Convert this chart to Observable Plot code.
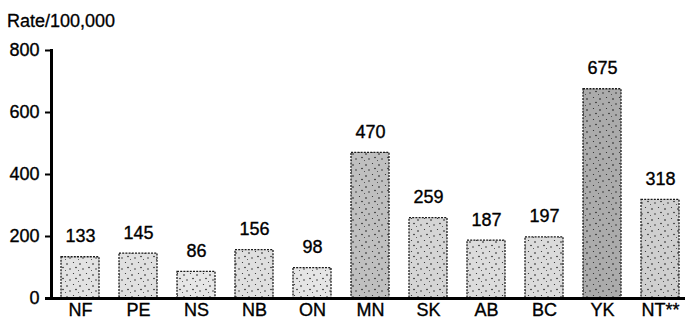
<!DOCTYPE html>
<html>
<head>
<meta charset="utf-8">
<script src="https://cdn.jsdelivr.net/npm/d3@7"></script>
<script src="https://cdn.jsdelivr.net/npm/@observablehq/plot@0.6"></script>
<style>
  body { margin: 0; background: #fff; font-family: "Liberation Sans", Arial, sans-serif; }
  #title { height: 30px; box-sizing: border-box; padding: 12px 0 0 7px; font-size: 18px; line-height: 18px; color: #000; -webkit-text-stroke: 0.3px #000; }
  #chart svg text { stroke: #000; stroke-width: 0.35px; }
</style>
</head>
<body>
<svg width="0" height="0" style="position:absolute">
  <defs>
    <pattern id="dots" width="13" height="11" patternUnits="userSpaceOnUse">
      <circle cx="2" cy="3" r="0.8" fill="#111"/>
      <circle cx="8.5" cy="1.5" r="0.6" fill="#222"/>
      <circle cx="5" cy="8" r="0.7" fill="#111"/>
      <circle cx="11" cy="6.5" r="0.8" fill="#222"/>
      <circle cx="0.5" cy="9.5" r="0.5" fill="#333"/>
    </pattern>
  </defs>
</svg>
<div id="title">Rate/100,000</div>
<div id="chart"></div>
<script>
const provinces = ["NF", "PE", "NS", "NB", "ON", "MN", "SK", "AB", "BC", "YK", "NT**"];
const rates = [133, 145, 86, 156, 98, 470, 259, 187, 197, 675, 318];
const yTicks = [0, 200, 400, 600, 800];

const data = provinces.map((p, i) => ({ province: p, rate: rates[i] }));

const chart = Plot.plot({
  width: 685,
  height: 293,
  marginLeft: 51,
  marginRight: 0,
  marginTop: 20,
  marginBottom: 25,
  style: { fontFamily: "'Liberation Sans', Arial, sans-serif", fontSize: "18px", color: "#000", background: "#fff" },
  x: { domain: provinces, range: [51, 689], padding: 0, label: null },
  y: { domain: [0, 800], label: null },
  color: { type: "linear", domain: [0, 700], range: ["#efefef", "#a8a8a8"] },
  marks: [
    Plot.barY(data, { x: "province", y: "rate", fill: "rate", insetLeft: 10, insetRight: 10 }),
    Plot.barY(data, { x: "province", y: "rate", fill: "url(#dots)", stroke: "#1a1a1a", strokeWidth: 1.3, strokeDasharray: "2,1.2", insetLeft: 10, insetRight: 10 }),
    Plot.text(data, { x: "province", y: "rate", text: d => String(d.rate), lineAnchor: "bottom", dy: -15, fontSize: 18, fill: "#000" }),
    Plot.axisY({ ticks: yTicks, tickSize: 6, tickPadding: 6, strokeWidth: 2, fontSize: 18, label: null }),
    Plot.axisX({ tickSize: 0, tickPadding: 5, fontSize: 18, label: null }),
    Plot.frame({ anchor: "left", strokeWidth: 3, stroke: "#000" }),
    Plot.ruleY([0], { strokeWidth: 3, stroke: "#000", insetLeft: -6 })
  ]
});
document.getElementById("chart").appendChild(chart);
</script>
</body>
</html>
